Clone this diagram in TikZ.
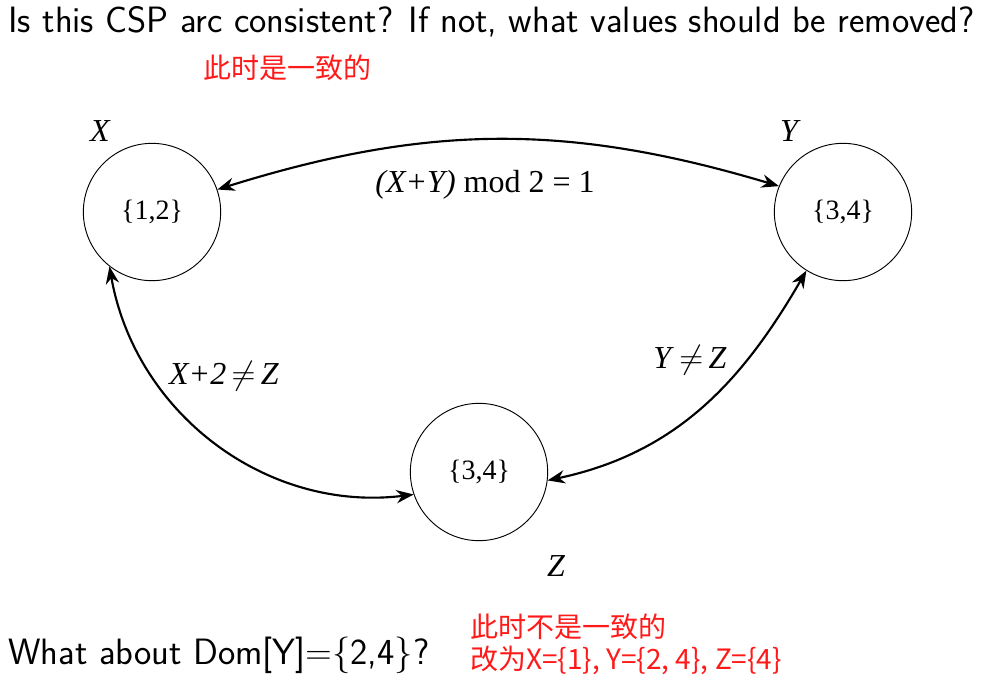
\documentclass[tikz,border=0pt]{standalone}
\usepackage{fontspec}
\setmainfont{Liberation Serif}
\newfontfamily\cjk{Noto Sans CJK SC}
\usetikzlibrary{arrows.meta, positioning}
\definecolor{cred}{HTML}{FF1A1A}
\tikzset{
  every picture/.style={line width=0.6pt},
  var/.style={circle, draw, line width=0.7pt, minimum size=103pt, font=\fontsize{21}{23}\selectfont},
  varname/.style={font=\fontsize{24}{26}\selectfont\itshape},
  cons/.style={font=\fontsize{24}{26}\selectfont},
  arc/.style={{Stealth[length=13pt, width=10pt]}-{Stealth[length=13pt, width=10pt]}, line width=1.6pt},
  slide/.style={font=\sffamily\fontsize{27.5}{32}\selectfont, anchor=west, inner sep=0pt},
  remark/.style={font=\cjk\fontsize{21}{25}\selectfont, text=cred, anchor=west, inner sep=0pt},
}

\begin{document}
\begin{tikzpicture}[x=0.75pt, y=-0.75pt]
  \useasboundingbox (0,0) rectangle (991,682);
  % the three variables
  \node[var] (varX) at (152,212) {\{1,2\}};
  \node[var] (varY) at (843,212) {\{3,4\}};
  \node[var] (varZ) at (479,472) {\{3,4\}};
  \node[varname] (nameX) at (100,131) {X};
  \node[varname] (nameY) at (789,131) {Y};
  \node[varname] (nameZ) at (556,566) {Z};
  % constraints
  \draw[arc] (varX.19) to[bend left=17] (varY.158);
  \draw[arc] (varX.232) to[out=-80, in=187, looseness=1.0] (varZ.199);
  \draw[arc] (varY.238) to[out=240, in=12, looseness=1.0] (varZ.-7);
  \node[cons] (consXY) at (485,185) {\textit{(X+Y)} mod 2 = 1};
  \node[cons] (consXZ) at (224,376) {\textit{X+2}\,$\neq$\,\textit{Z}};
  \node[cons] (consYZ) at (690,360) {\textit{Y}\,$\neq$\,\textit{Z}};
  % slide text
  \node[slide] (question) at (8,22) {Is this CSP arc consistent? If not, what values should be removed?};
  \node[remark] (yes) at (203,68) {此时是一致的};
  \node[slide] (again) at (8,655) {What about Dom[Y]=\{2,4\}?};
  \node[remark] (no) at (470,627) {此时不是一致的};
  \node[remark] (fix) at (470,660) {改为X=\{1\}, Y=\{2, 4\}, Z=\{4\}};
\end{tikzpicture}
\end{document}
